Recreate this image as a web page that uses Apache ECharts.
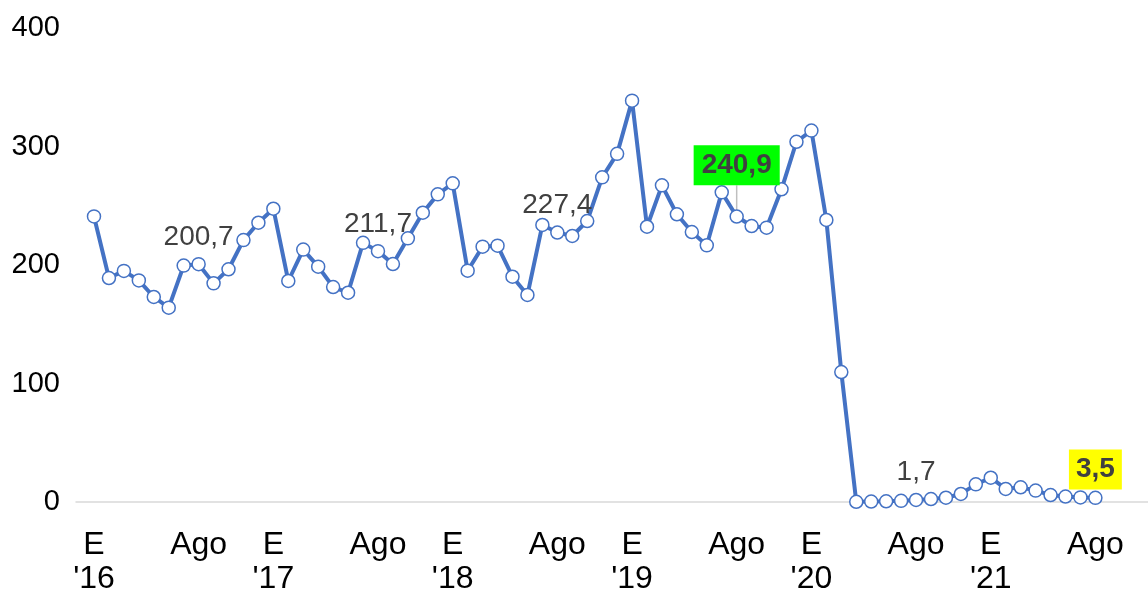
<!DOCTYPE html>
<html lang="es">
<head>
	<meta charset="UTF-8">
	<title>Serie mensual</title>
	<script src="https://cdn.jsdelivr.net/npm/echarts@6/dist/echarts.min.js"></script>
	<style>
		* {
			margin: 0;
			padding: 0;
		}

		body,
		html,
		#main {
			height: 100%;
			width: 100%;
			background: #fff;
		}
	</style>
</head>
<body>
	<div id="main"></div>
	<script>
		// monthly values, Jan 2016 .. Aug 2021
		const values = [
			241, 189, 195, 187, 173, 164, 199.5, 200.7, 184.5, 196.4, 221, 235.7,
			247.5, 186.5, 213, 198.6, 181.4, 176.6, 218.7, 211.7, 200.8, 222.5, 244.1, 259.6,
			268.9, 195.2, 215.5, 216.3, 190.1, 174.7, 233.8, 227.4, 224.5, 237.1, 274, 293.8,
			338.7, 232.3, 267.2, 242.8, 227.8, 216.6, 261.3, 240.9, 232.9, 231.5, 263.9, 304,
			313.4, 238, 109.7, 0.2, 0.4, 0.6, 1.0, 1.7, 2.5, 3.6, 6.8, 14.9, 20.5,
			11, 12.4, 9.6, 5.9, 4.6, 3.9, 3.5
		];
		const months = ['E', 'F', 'M', 'A', 'My', 'Jn', 'Jl', 'Ago', 'S', 'O', 'N', 'D'];
		const years = ['16', '17', '18', '19', '20', '21'];
		const shownMonths = ['E', 'Ago'];
		const yTicks = [0, 100, 200, 300, 400];
		// points that carry a value label
		const labelIdx = [7, 19, 31, 43, 55, 67];
		const greenIdx = 43;
		const yellowIdx = 67;

		const categories = values.map((v, i) => {
			const m = months[i % 12];
			return m === 'E' ? m + "\n'" + years[Math.floor(i / 12)] : m;
		});
		const tickIdx = [];
		categories.forEach((c, i) => {
			if (shownMonths.indexOf(months[i % 12]) >= 0) tickIdx.push(i);
		});

		const fmt = v => v.toFixed(1).replace('.', ',');

		const seriesData = values.map((v, i) => {
			const item = { value: [i, v] };
			if (labelIdx.indexOf(i) >= 0) {
				item.label = { show: true, formatter: fmt(v) };
				if (i === greenIdx) {
					item.label = {
						show: true, formatter: fmt(v), fontWeight: 'bold',
						backgroundColor: '#00ff00', padding: [6, 8], distance: 5
					};
					item.labelLine = { show: true, lineStyle: { color: '#bfbfbf', width: 1.5 } };
				}
				if (i === yellowIdx) {
					item.label = {
						show: true, formatter: fmt(v), fontWeight: 'bold',
						backgroundColor: '#ffff00', padding: [6, 7], distance: 1
					};
				}
			}
			return item;
		});

		const chart = echarts.init(document.getElementById('main'));
		const option = {
			animation: false,
			grid: { left: 76, right: 0, top: 28, bottom: 91, outerBoundsMode: 'none', containLabel: false },
			xAxis: {
				type: 'value',
				min: -1.204,
				max: 70.52,
				splitLine: { show: false },
				axisLine: { show: true, onZero: true, lineStyle: { color: '#d9d9d9', width: 1.5 } },
				axisTick: { show: false },
				axisLabel: {
					customValues: tickIdx,
					formatter: v => categories[Math.round(v)] || '',
					color: '#000',
					fontSize: 32,
					fontFamily: 'Liberation Sans, Arial, sans-serif',
					lineHeight: 34,
					margin: 26
				}
			},
			yAxis: {
				type: 'value',
				min: yTicks[0],
				max: yTicks[yTicks.length - 1],
				interval: 100,
				splitLine: { show: false },
				axisLine: { show: false },
				axisTick: { show: false },
				axisLabel: {
					color: '#000',
					fontSize: 29,
					fontFamily: 'Liberation Sans, Arial, sans-serif',
					margin: 16
				}
			},
			series: [{
				type: 'line',
				data: seriesData,
				symbol: 'circle',
				symbolSize: 13,
				showAllSymbol: true,
				lineStyle: { color: '#4472C4', width: 4 },
				itemStyle: { color: '#fff', borderColor: '#4472C4', borderWidth: 1.5 },
				label: {
					show: false,
					position: 'top',
					distance: 6,
					color: '#404040',
					fontSize: 28,
					fontFamily: 'Liberation Sans, Arial, sans-serif'
				},
				labelLayout: params => params.dataIndex === greenIdx ? { dy: -19 } : {},
				labelLine: { show: false }
			}]
		};
		chart.setOption(option);
	</script>
</body>
</html>
